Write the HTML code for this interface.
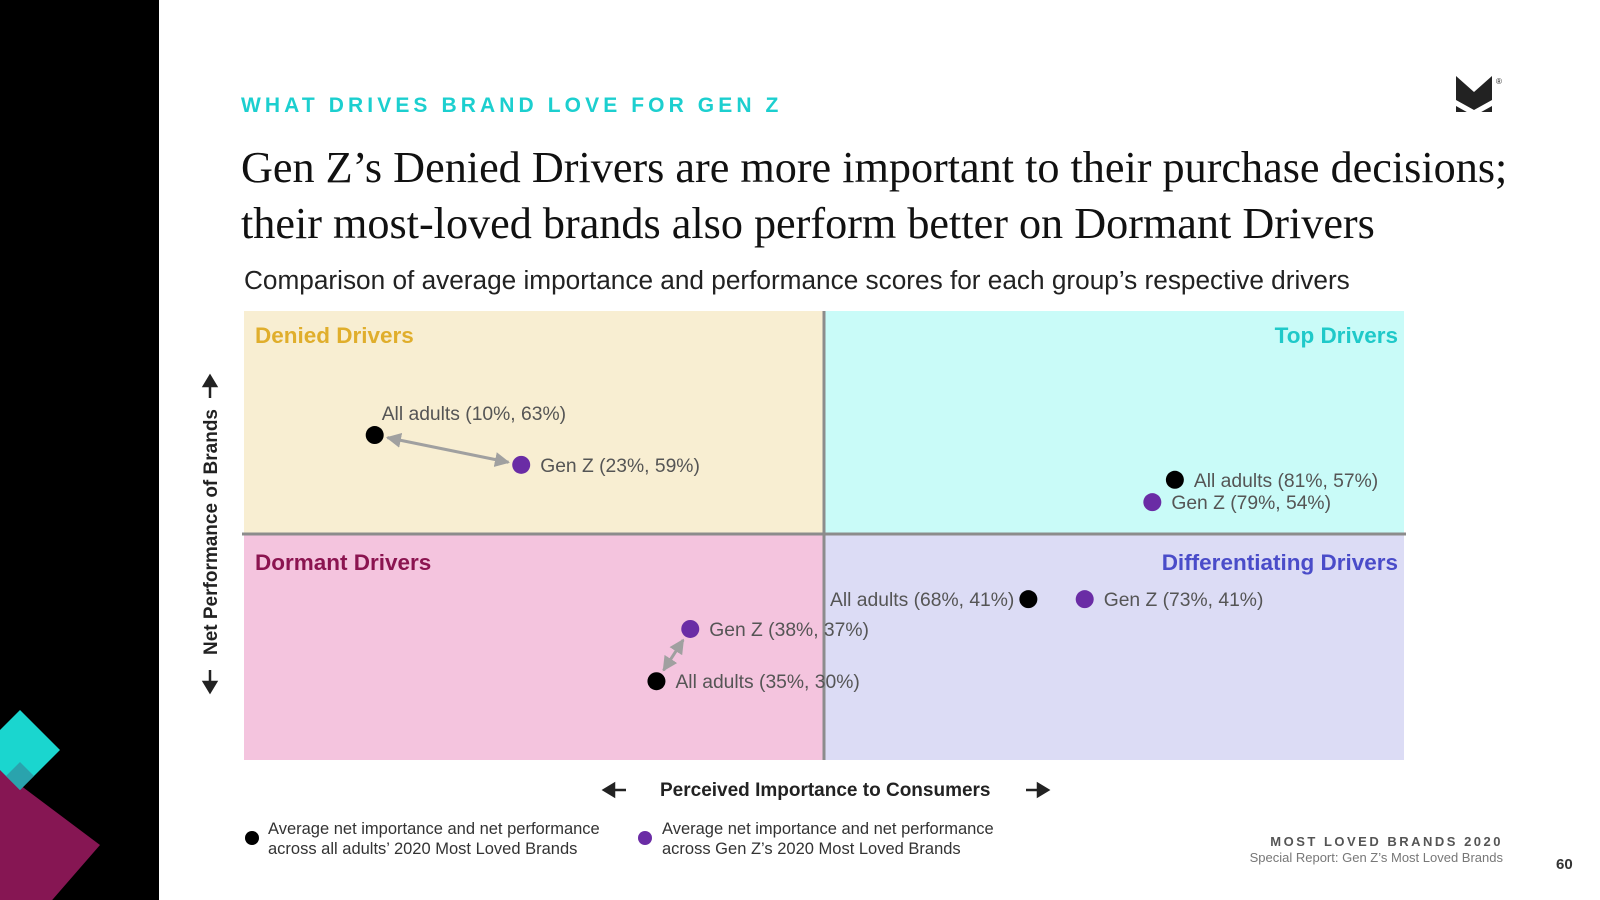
<!DOCTYPE html>
<html style="overflow:hidden"><head><meta charset="utf-8">
<style>
html,body{margin:0;width:1600px;height:900px;overflow:hidden}
body{position:relative;background:#fff;font-family:"Liberation Sans",sans-serif}
.abs{position:absolute;white-space:nowrap}
</style></head><body>
<div class="abs" style="left:0;top:0;width:159px;height:900px;background:#000"></div>
<svg class="abs" style="left:0;top:700px" width="159" height="200" overflow="hidden">
<polygon points="0,45 -40,80 0,260 100,145 20,85" fill="#861653"/>
<polygon points="20,10 60,50 20,90 -20,50" fill="#1ad6cf"/>
<polygon points="20,62 34,76 20,90 6,76" fill="#2aa3ad"/>
</svg>
<div class="abs" style="left:241px;top:94px;font-size:21px;font-weight:bold;letter-spacing:4.1px;color:#1ccfcf">WHAT DRIVES BRAND LOVE FOR GEN Z</div>
<svg class="abs" style="left:1456px;top:76px" width="50" height="40">
<polygon points="0,0 18,16 36,0 36,36 0,36" fill="#222"/>
<polygon points="0,24 18,34 36,24 36,30 18,40 0,30" fill="#fff"/>
<text x="40" y="8" font-size="8" fill="#222">®</text>
</svg>
<div class="abs" style="left:241px;top:140px;font-family:'Liberation Serif',serif;font-size:44.2px;line-height:56px;color:#111">Gen Z’s Denied Drivers are more important to their purchase decisions;<br>their most-loved brands also perform better on Dormant Drivers</div>
<div class="abs" style="left:244px;top:265px;font-size:26.2px;color:#222">Comparison of average importance and performance scores for each group’s respective drivers</div>

<svg class="abs" id="chart" style="left:0;top:0" width="1600" height="890"></svg>

<div class="abs" style="left:212px;top:532px;transform:translate(-50%,-50%) rotate(-90deg);font-size:19px;font-weight:bold;color:#222">Net Performance of Brands</div>
<svg class="abs" style="left:0;top:0" width="1600" height="890">
<g stroke="#222" stroke-width="2.5" fill="#222">
<line x1="210" y1="398" x2="210" y2="384"/><polygon points="204,386 216,386 210,376"/>
<line x1="210" y1="670" x2="210" y2="684"/><polygon points="204,682 216,682 210,692"/>
<line x1="626" y1="790" x2="612" y2="790"/><polygon points="614,784 614,796 604,790"/>
<line x1="1026" y1="790" x2="1040" y2="790"/><polygon points="1038,784 1038,796 1048,790"/>
</g></svg>
<div class="abs" style="left:660px;top:780px;font-size:19px;font-weight:bold;color:#222">Perceived Importance to Consumers</div>

<div class="abs" style="left:245px;top:819px;font-size:16.5px;line-height:20px;color:#333">
<span style="position:absolute;left:0;top:12px;width:14px;height:14px;border-radius:50%;background:#000"></span>
<div style="margin-left:23px">Average net importance and net performance<br>across all adults’ 2020 Most Loved Brands</div></div>
<div class="abs" style="left:638px;top:819px;font-size:16.5px;line-height:20px;color:#333">
<span style="position:absolute;left:0;top:12px;width:14px;height:14px;border-radius:50%;background:#6a2ca5"></span>
<div style="margin-left:24px">Average net importance and net performance<br>across Gen Z’s 2020 Most Loved Brands</div></div>

<div class="abs" style="right:97px;top:834px;font-size:13px;font-weight:bold;letter-spacing:2.5px;color:#555;text-align:right">MOST LOVED BRANDS 2020</div>
<div class="abs" style="right:97px;top:850px;font-size:13px;color:#777;text-align:right">Special Report: Gen Z’s Most Loved Brands</div>
<div class="abs" style="left:1556px;top:856px;font-size:15px;line-height:17px;font-weight:bold;color:#333">60</div>

<script>
const groups = ["All adults","Gen Z","All adults","Gen Z","All adults","Gen Z","All adults","Gen Z"];
const quadrant = ["denied","denied","top","top","differentiating","differentiating","dormant","dormant"];
const importance = [10,23,81,79,68,73,35,38];
const performance = [63,59,57,54,41,41,30,37];
const labelSide = ["above","right","right","right","left","right","right","right"];
const pairs = [[0,1],[6,7]];

const NS="http://www.w3.org/2000/svg";
const svg=document.getElementById('chart');
const X0=244,X1b=1404,Y0b=311,Y1b=760,XMb=824,YMb=534;
const xs=v=>262+11.27*v;
const ys=v=>532-7.46*(v-50);
function mk(tag,attrs,parent){const e=document.createElementNS(NS,tag);for(const k in attrs)e.setAttribute(k,attrs[k]);(parent||svg).appendChild(e);return e;}

const defs=mk('defs',{});
const mkr=mk('marker',{id:'ah',viewBox:'0 0 10 10',refX:'9',refY:'5',markerWidth:'5',markerHeight:'5',orient:'auto-start-reverse'},defs);
mk('path',{d:'M0,0 L10,5 L0,10 z',fill:'#a0a0a0'},mkr);

const quads=[["denied",X0,Y0b,XMb-X0,YMb-Y0b,"#f8eed2"],["top",XMb,Y0b,X1b-XMb,YMb-Y0b,"#c9fbf8"],["dormant",X0,YMb,XMb-X0,Y1b-YMb,"#f4c4de"],["differentiating",XMb,YMb,X1b-XMb,Y1b-YMb,"#dcdcf5"]];
quads.forEach(q=>{
  const r=mk('rect',{x:q[1],y:q[2],width:q[3],height:q[4],fill:q[5]});
  
  
});
const vl=mk('line',{x1:XMb,y1:Y0b,x2:XMb,y2:Y1b,stroke:'#8c8c8c','stroke-width':3});


const hl=mk('line',{x1:X0-2,y1:YMb,x2:X1b+2,y2:YMb,stroke:'#8c8c8c','stroke-width':3});



const qlabels=[["Denied Drivers",255,343,"start","#e0ae2c"],["Top Drivers",1398,343,"end","#1fc9c9"],["Dormant Drivers",255,570,"start","#8b1450"],["Differentiating Drivers",1398,570,"end","#4a4cc9"]];
qlabels.forEach(l=>{
  const t=mk('text',{x:l[1],y:l[2],'text-anchor':l[3],fill:l[4],'font-size':22.5,'font-weight':'bold','font-family':'Liberation Sans, sans-serif'});
  t.textContent=l[0];
  
  
});

pairs.forEach(p=>{
  const a=p[0],b=p[1];
  const x1=xs(importance[a]),y1=ys(performance[a]),x2=xs(importance[b]),y2=ys(performance[b]);
  const dx=x2-x1,dy=y2-y1,L=Math.hypot(dx,dy),ux=dx/L,uy=dy/L;
  const ln=mk('line',{x1:x1+ux*13,y1:y1+uy*13,x2:x2-ux*13,y2:y2-uy*13,stroke:'#a0a0a0','stroke-width':3,'marker-start':'url(#ah)','marker-end':'url(#ah)'});
  
  
});

importance.forEach((v,i)=>{
  const cx=xs(v),cy=ys(performance[i]);
  const isZ=groups[i]==="Gen Z";
  const c=mk('circle',{cx:cx,cy:cy,r:9,fill:isZ?'#6a2ca5':'#000'});
  
  
  const txt=groups[i]+" ("+v+"%, "+performance[i]+"%)";
  let tx=cx+19,ty=cy+7,anchor='start';
  if(labelSide[i]==='above'){tx=cx+7;ty=cy-15;}
  if(labelSide[i]==='left'){tx=cx-14;anchor='end';}
  const t=mk('text',{x:tx,y:ty,'text-anchor':anchor,fill:'#555','font-size':19.3,'font-family':'Liberation Sans, sans-serif'});
  t.textContent=txt;
  
  
});
</script>
</body></html>
